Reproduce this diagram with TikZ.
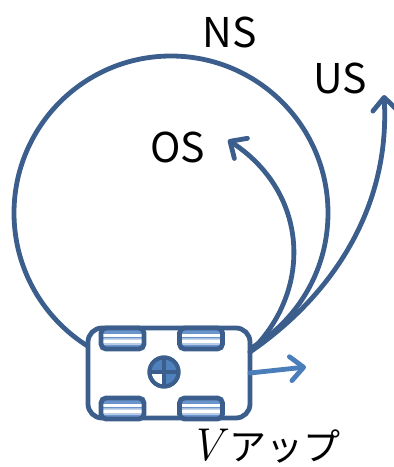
\documentclass[tikz,border=0pt]{standalone}
\usepackage{fontspec}
\newfontfamily\jpfont{Noto Sans CJK JP}
\usetikzlibrary{arrows.meta}

\definecolor{linedark}{HTML}{3B5E8C}
\definecolor{arrowlight}{HTML}{4A7EBB}
\definecolor{hubfill}{HTML}{4F81BD}
\definecolor{stripeblue}{HTML}{6A95CC}
\definecolor{stripelight}{HTML}{B8CCE6}

% horizontal bands of the wheel treads (bottom = 25bp, top = 75bp)
\pgfdeclareverticalshading{wheelstripes}{100bp}{%
  color(0bp)=(stripeblue); color(30bp)=(stripeblue); color(35bp)=(stripeblue);
  color(36bp)=(stripelight); color(40bp)=(stripelight); color(41bp)=(white);
  color(48bp)=(white); color(49bp)=(stripelight); color(51bp)=(stripelight);
  color(52bp)=(stripeblue); color(55bp)=(stripeblue); color(56bp)=(white);
  color(62bp)=(white); color(63bp)=(stripeblue); color(100bp)=(stripeblue)}

\begin{document}
\begin{tikzpicture}[x=1pt,y=-1pt,
  outline/.style={draw=linedark, line width=4.8pt, outer sep=0pt, inner sep=0pt},
  barb/.style={-{Straight Barb[length=13pt,width=24pt,line cap=round,line join=round]}},
  path/.style={draw=linedark, line width=4.8pt, line cap=round},
  thrust/.style={draw=arrowlight, line width=4.8pt, line cap=round, barb},
  wheelbox/.style={outline, rounded corners=5pt, minimum width=43pt, minimum height=21pt, shading=wheelstripes},
  label/.style={font=\jpfont\fontsize{41}{41}\selectfont, inner sep=0pt, text=black},
]
\useasboundingbox (0,0) rectangle (394,467);

% orbit traced by the vehicle
\node[outline, circle, minimum size=314pt] (orbit) at (171,213) {};

% vehicle body
\node[outline, fill=white, rounded corners=14pt, minimum width=162pt, minimum height=90pt] (car) at (169,373) {};

% wheels
\node[wheelbox] (wheelTL) at (122.5,338.5) {};
\node[wheelbox] (wheelTR) at (201,338.5) {};
\node[wheelbox] (wheelBL) at (122.5,408.5) {};
\node[wheelbox] (wheelBR) at (201,408.5) {};

% centre hub
\node[outline, circle, line width=4pt, minimum size=29pt, fill=white] (hub) at (164,372) {};
\fill[hubfill] (hub.center) -- ++(180:14.5) arc[start angle=180, end angle=450, radius=14.5] -- cycle;
\draw[linedark, line width=4pt] (hub.north) -- (hub.south);
\draw[linedark, line width=4pt] (hub.west) -- (hub.east);
\draw[linedark, line width=4pt] (hub.center) circle[radius=14.5];

% trajectories leaving the vehicle
\coordinate (launch) at (250,352);
\coordinate (ostip) at (228,140);
\coordinate (ustip) at (384,95);
\coordinate (thrusttip) at (306,367);
\draw[path, barb] (launch) .. controls (314,290) and (308,192) .. (ostip);
\draw[path, barb] (launch) .. controls (340,290) and (390,200) .. (ustip);
\draw[thrust] (car.east) -- (thrusttip);

% labels
\node[label] (ns) at (230,32) {NS};
\node[label] (us) at (340,78) {US};
\node[label] (os) at (178,147) {OS};
\node[inner sep=3pt] (vup) at (263,446) {\kern4pt\fontsize{46}{46}\selectfont\textit{V}\/\kern1pt\jpfont\fontsize{37}{37}\selectfont アップ};
\end{tikzpicture}
\end{document}
